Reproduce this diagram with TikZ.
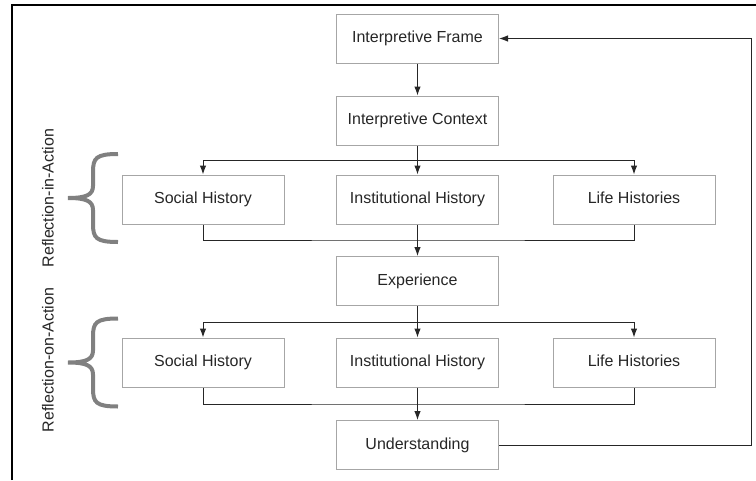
\documentclass[tikz,border=0pt]{standalone}
\usepackage{fontspec}
\setmainfont{Liberation Sans}
\usetikzlibrary{arrows.meta}

\begin{document}
\begin{tikzpicture}[x=1pt, y=-1pt, >={Latex[length=9pt,width=6.5pt]},
		box/.style={draw=gray!70, line width=1pt, minimum width=162pt, minimum height=49pt,
			inner sep=0pt, text height=11.5pt, text depth=3.5pt, text=black!85,
			font=\fontsize{16}{19}\selectfont},
		link/.style={line width=1pt, draw=black!85},
		reflbrace/.style={draw=gray, line width=4pt},
		reflabel/.style={rotate=90, text=black!85, font=\fontsize{16}{19}\selectfont}]
		\useasboundingbox (0, 0) rectangle (756, 480);
		\draw[line width=2.5pt] (12, 480) -- (12, 5) -- (756, 5);
		% main column
		\node[box] (frame) at (417.5, 38.5) {Interpretive Frame};
		\node[box] (context) at (417.5, 120.5) {Interpretive Context};
		\node[box] (exp) at (417.5, 281) {Experience};
		\node[box] (under) at (417.5, 445) {Understanding};
		% the two rows of histories
		\node[box] (soc1) at (203, 199.5) {Social History};
		\node[box] (inst1) at (417.5, 199.5) {Institutional History};
		\node[box] (life1) at (634, 199.5) {Life Histories};
		\node[box] (soc2) at (203, 362.5) {Social History};
		\node[box] (inst2) at (417.5, 362.5) {Institutional History};
		\node[box] (life2) at (634, 362.5) {Life Histories};
		\coordinate (split1) at (417.5, 160);
		\coordinate (join1) at (417.5, 240);
		\coordinate (split2) at (417.5, 322);
		\coordinate (join2) at (417.5, 404);
		\coordinate (back) at (751, 445);
		% connectors
		\draw[link, ->] (frame) -- (context);
		\draw[link, ->] (context) -- (inst1);
		\draw[link, ->] (split1) -| (soc1);
		\draw[link, ->] (split1) -| (life1);
		\draw[link] (soc1) |- (join1) -| (life1);
		\draw[link, ->] (inst1) -- (exp);
		\draw[link, ->] (exp) -- (inst2);
		\draw[link, ->] (split2) -| (soc2);
		\draw[link, ->] (split2) -| (life2);
		\draw[link] (soc2) |- (join2) -| (life2);
		\draw[link, ->] (inst2) -- (under);
		\draw[link, ->] (under) -- (back) |- (frame);
		% braces and their labels
		\foreach \yc/\txt/\ylab in {198/in/198, 362.5/on/360} {
			\draw[reflbrace, shift={(0, \yc)}] (118, -44) .. controls (96, -44) and (93, -40) .. (93, -26)
				-- (93, -12) .. controls (93, -3) and (86, 0) .. (68, 0)
				.. controls (86, 0) and (93, 3) .. (93, 12) -- (93, 26)
				.. controls (93, 40) and (96, 44) .. (118, 44);
			\node[reflabel] (refl-\txt) at (48, \ylab) {Reflection-\txt-Action};
		}
\end{tikzpicture}
\end{document}
